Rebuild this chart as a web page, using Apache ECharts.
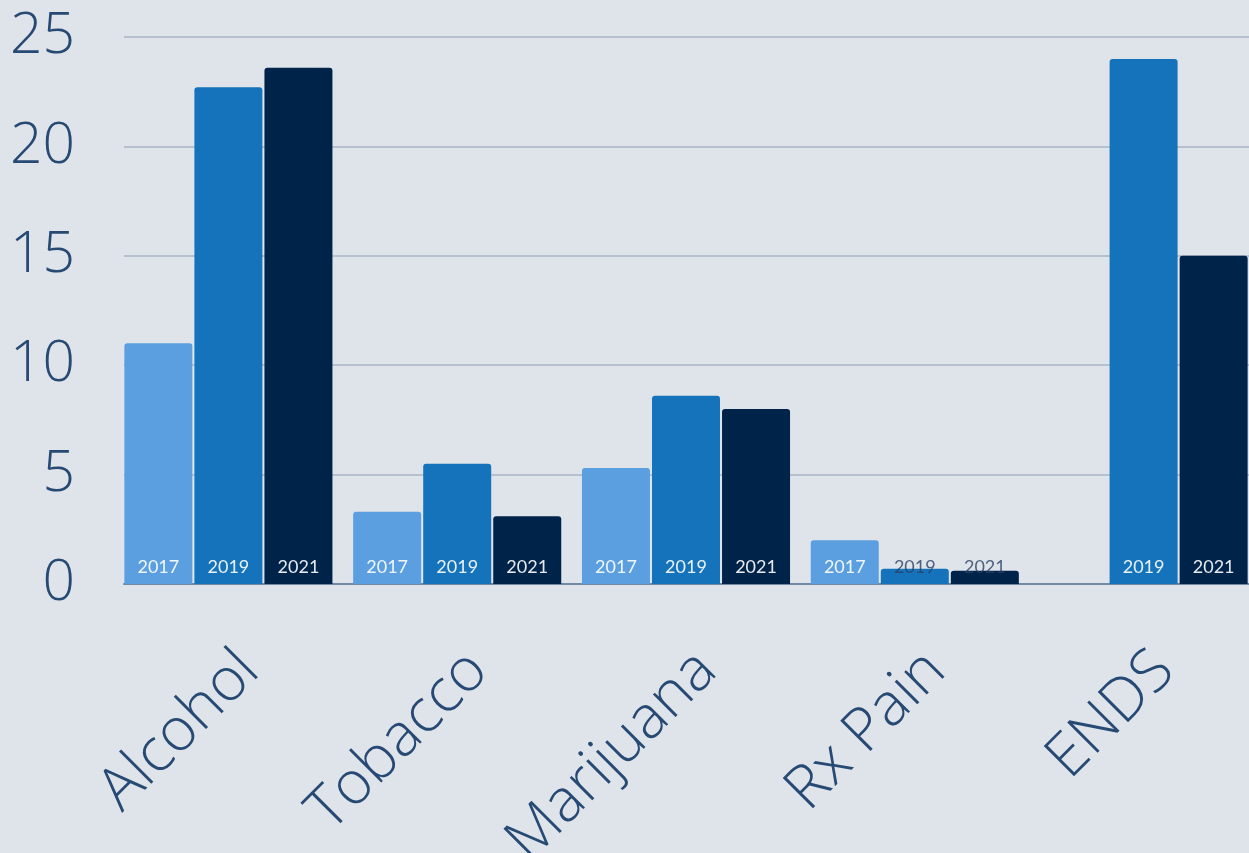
<!DOCTYPE html>
<html>
<head>
<meta charset="utf-8">
<style>
  html, body { margin: 0; padding: 0; background: #dfe4eb; }
  #chart { width: 1249px; height: 853px; }
</style>
<script src="https://cdn.jsdelivr.net/npm/echarts@6/dist/echarts.min.js"></script>
</head>
<body>
<div id="chart"></div>
<script>
const categories = ['Alcohol', 'Tobacco', 'Marijuana', 'Rx Pain', 'ENDS']
const years = ['2017', '2019', '2021']
const values2017 = [11.0, 3.3, 5.3, 2.0, null]
const values2019 = [22.7, 5.5, 8.6, 0.7, 24.0]
const values2021 = [23.6, 3.1, 8.0, 0.6, 15.0]
const yTicks = [0, 5, 10, 15, 20, 25]

const colors = ['#5b9fe0', '#1473bb', '#00234a']
const textColor = '#274a74'

function makeSeries(name, data, color) {
  return {
    name: name,
    type: 'bar',
    xAxisIndex: 1,
    yAxisIndex: 1,
    data: data.map(function (v) {
      // tiny bars: label spills over the background, draw it dark
      const small = v !== null && v < 1
      return {
        value: v,
        label: { color: small ? 'rgba(40,64,100,0.8)' : 'rgba(255,255,255,0.9)' }
      }
    }),
    barWidth: 68,
    barGap: '3%',
    itemStyle: { color: color, borderRadius: [3, 3, 0, 0] },
    label: {
      show: true,
      position: 'insideBottom',
      distance: 8,
      formatter: name,
      fontFamily: 'Lato',
      fontSize: 18
    },
    animation: false
  }
}

const chart = echarts.init(document.getElementById('chart'))
chart.setOption({
  backgroundColor: '#dfe4eb',
  grid: [
    // grid 0: gridlines, y labels, baseline
    { left: 124, right: 0, top: 37, bottom: 269, outerBoundsMode: 'none', containLabel: false },
    // grid 1: bars and category labels (slightly wider so groups line up)
    { left: 114, right: -9, top: 37, bottom: 269, outerBoundsMode: 'none', containLabel: false }
  ],
  xAxis: [{
    gridIndex: 0,
    type: 'category',
    data: categories,
    axisTick: { show: false },
    axisLabel: { show: false },
    axisLine: { lineStyle: { color: '#7088aa', width: 2 } }
  }, {
    gridIndex: 1,
    type: 'category',
    data: categories,
    axisTick: { show: false },
    axisLine: { show: false },
    axisLabel: {
      rotate: 45,
      margin: 56,
      verticalAlign: 'top',
      color: textColor,
      fontFamily: 'Open Sans',
      fontWeight: 300,
      fontSize: 60
    }
  }],
  yAxis: [{
    gridIndex: 0,
    type: 'value',
    min: 0,
    max: 25,
    interval: 5,
    axisLine: { show: false },
    axisTick: { show: false },
    splitLine: { lineStyle: { color: '#aab4c6', width: 1.5 } },
    axisLabel: {
      margin: 49,
      color: textColor,
      fontFamily: 'Open Sans',
      fontWeight: 300,
      fontSize: 57,
      formatter: function (v) { return yTicks.indexOf(v) >= 0 ? String(v) : '' }
    }
  }, {
    gridIndex: 1,
    type: 'value',
    min: 0,
    max: 25,
    show: false,
    splitLine: { show: false }
  }],
  series: [
    makeSeries(years[0], values2017, colors[0]),
    makeSeries(years[1], values2019, colors[1]),
    makeSeries(years[2], values2021, colors[2])
  ]
})
</script>
</body>
</html>
